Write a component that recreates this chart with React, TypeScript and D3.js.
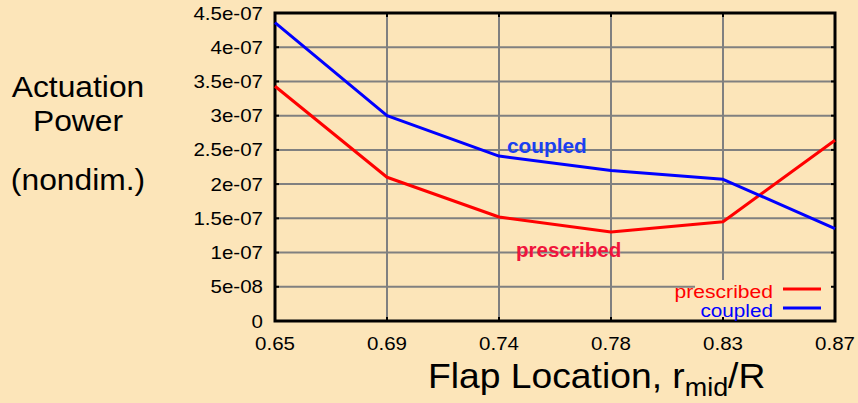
import React from "react";
import * as d3 from "d3";

const categories = ["0.65", "0.69", "0.74", "0.78", "0.83", "0.87"];
const prescribed = [3.43e-7, 2.1e-7, 1.52e-7, 1.3e-7, 1.45e-7, 2.64e-7];
const coupled = [4.36e-7, 3.0e-7, 2.41e-7, 2.2e-7, 2.07e-7, 1.35e-7];
const yTickValues = [0, 5e-8, 1e-7, 1.5e-7, 2e-7, 2.5e-7, 3e-7, 3.5e-7, 4e-7, 4.5e-7];
const yTickLabels = ["0", "5e-08", "1e-07", "1.5e-07", "2e-07", "2.5e-07", "3e-07", "3.5e-07", "4e-07", "4.5e-07"];

const W = 858;
const H = 403;
const BG = "#FCE5B9";
const left = 275, right = 835, top = 13, bottom = 321;

type STextProps = {
  x: number;
  y: number;
  sx?: number;
  anchor?: "start" | "middle" | "end";
  size: number;
  fill?: string;
  weight?: string;
  children: React.ReactNode;
};

function SText({ x, y, sx = 1, anchor = "start", size, fill = "#000", weight = "normal", children }: STextProps) {
  return (
    <text
      transform={`translate(${x},${y}) scale(${sx},1)`}
      textAnchor={anchor}
      fontSize={size}
      fill={fill}
      fontWeight={weight}
    >
      {children}
    </text>
  );
}

export default function App() {
  const x = d3.scalePoint<string>().domain(categories).range([left, right]);
  const y = d3.scaleLinear().domain([0, 4.5e-7]).range([bottom, top]);
  const line = d3
    .line<number>()
    .x((_, i) => x(categories[i]) as number)
    .y((d) => y(d));

  const font = "Liberation Sans, Arial, Helvetica, sans-serif";

  return (
    <svg
      width={W}
      height={H}
      style={{ position: "absolute", left: 0, top: 0, display: "block" }}
      fontFamily={font}
    >
      <rect x={0} y={0} width={W} height={H} fill={BG} />
      {/* grid */}
      {yTickValues.slice(1, -1).map((v) => (
        <line key={"gy" + v} x1={left} x2={right} y1={y(v)} y2={y(v)} stroke="#808080" strokeWidth={2} />
      ))}
      {categories.slice(1, -1).map((c) => (
        <line key={"gx" + c} x1={x(c)} x2={x(c)} y1={top} y2={bottom} stroke="#808080" strokeWidth={2} />
      ))}
      {/* legend box */}
      <rect x={695} y={280} width={right - 695} height={bottom - 280} fill={BG} />
      {/* ticks */}
      {yTickValues.map((v, i) => (
        <g key={"ty" + v}>
          <line x1={left} x2={left + 4} y1={y(v)} y2={y(v)} stroke="#000" strokeWidth={2} />
          <line x1={right - 4} x2={right} y1={y(v)} y2={y(v)} stroke="#000" strokeWidth={2} />
          <SText x={263} y={y(v) + 6.5} anchor="end" size={18} sx={1.14}>
            {yTickLabels[i]}
          </SText>
        </g>
      ))}
      {categories.map((c) => (
        <g key={"tx" + c}>
          <line x1={x(c)} x2={x(c)} y1={top} y2={top + 4} stroke="#000" strokeWidth={2} />
          <line x1={x(c)} x2={x(c)} y1={bottom - 4} y2={bottom} stroke="#000" strokeWidth={2} />
          <SText x={x(c) as number} y={350} anchor="middle" size={18} sx={1.14}>
            {c}
          </SText>
        </g>
      ))}
      {/* frame */}
      <rect x={left} y={top} width={right - left} height={bottom - top} fill="none" stroke="#000" strokeWidth={3} />
      {/* data */}
      <path d={line(prescribed) || ""} fill="none" stroke="#FF0000" strokeWidth={3} strokeLinejoin="round" />
      <path d={line(coupled) || ""} fill="none" stroke="#0000FF" strokeWidth={3} strokeLinejoin="round" />
      {/* in-plot labels */}
      <SText x={507} y={153} size={20} sx={1.04} weight="bold" fill="#1A40F0">coupled</SText>
      <SText x={516} y={257} size={20} sx={1.03} weight="bold" fill="#F0143C">prescribed</SText>
      {/* legend */}
      <SText x={773} y={297.5} anchor="end" size={18.5} sx={1.14} fill="#FF0000">prescribed</SText>
      <line x1={783} x2={821} y1={289} y2={289} stroke="#FF0000" strokeWidth={3} />
      <SText x={773} y={316.5} anchor="end" size={18.5} sx={1.12} fill="#0000FF">coupled</SText>
      <line x1={783} x2={821} y1={308} y2={308} stroke="#0000FF" strokeWidth={3} />
      {/* axis titles */}
      <SText x={78} y={97} anchor="middle" size={30} sx={1.06}>Actuation</SText>
      <SText x={78} y={131} anchor="middle" size={30} sx={1.06}>Power</SText>
      <SText x={78} y={190} anchor="middle" size={30} sx={1.06}>(nondim.)</SText>
      <text transform="translate(428,388) scale(1.035,1)" fontSize={36} fill="#000">
        Flap Location, r
        <tspan fontSize={26} dy={8}>mid</tspan>
        <tspan dy={-8}>/R</tspan>
      </text>
    </svg>
  );
}
